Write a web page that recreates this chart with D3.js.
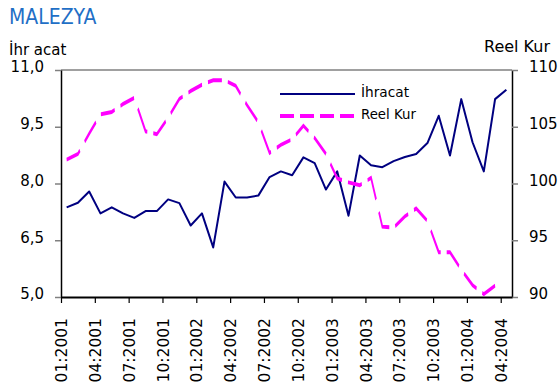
<!DOCTYPE html>
<html>
<head>
<meta charset="utf-8">
<script src="https://cdn.jsdelivr.net/npm/d3@7"></script>
<style>
  html, body { margin: 0; padding: 0; background: #fff; }
  svg { display: block; }
  text { font-family: "DejaVu Sans", Verdana, sans-serif; fill: #000; }
</style>
</head>
<body>
<svg id="chart" width="558" height="385"></svg>
<script>
// Monthly categories, 01:2001 – 04:2004
const months = [
  "01:2001","02:2001","03:2001","04:2001","05:2001","06:2001","07:2001","08:2001","09:2001","10:2001","11:2001","12:2001",
  "01:2002","02:2002","03:2002","04:2002","05:2002","06:2002","07:2002","08:2002","09:2002","10:2002","11:2002","12:2002",
  "01:2003","02:2003","03:2003","04:2003","05:2003","06:2003","07:2003","08:2003","09:2003","10:2003","11:2003","12:2003",
  "01:2004","02:2004","03:2004","04:2004"
];

// İhracat (left axis)
const ihracat = [
  7.37, 7.49, 7.79, 7.21, 7.37, 7.21, 7.09, 7.27, 7.27, 7.58, 7.48, 6.89,
  7.21, 6.31, 8.05, 7.63, 7.63, 7.68, 8.17, 8.32, 8.22, 8.69, 8.54, 7.84,
  8.32, 7.15, 8.74, 8.48, 8.43, 8.59, 8.70, 8.78, 9.07, 9.79, 8.74, 10.23,
  9.09, 8.32, 10.23, 10.48
];

// Reel Kur (right axis); last month not yet available
const reelKur = [
  102.1, 102.6, 104.4, 106.1, 106.3, 107.0, 107.55, 104.6, 104.35, 105.8, 107.45, 108.15,
  108.7, 109.1, 109.1, 108.6, 106.9, 105.4, 102.7, 103.4, 103.9, 105.1, 104.0, 102.6,
  100.45, 100.1, 99.85, 100.5, 96.2, 96.1, 97.1, 97.8, 96.7, 93.95, 93.95, 92.4,
  91.05, 90.25, 91.0
];

const leftTicks = [5.0, 6.5, 8.0, 9.5, 11.0];
const rightTicks = [90, 95, 100, 105, 110];
const labelEvery = 3;

const svg = d3.select("#chart");

const plot = { left: 61, right: 512, top: 70, bottom: 297 };

// x: category index -> position; ticks sit on category boundaries,
// points at category centres
const x = d3.scaleLinear().domain([0, months.length]).range([plot.left, plot.right]);
const yL = d3.scaleLinear().domain([5, 11]).range([plot.bottom, plot.top]);
const yR = d3.scaleLinear().domain([90, 110]).range([plot.bottom, plot.top]);

const comma = d => d3.format(".1f")(d).replace(".", ",");

// Title
svg.append("text")
  .attr("x", 9).attr("y", 24)
  .style("font-family", '"DejaVu Sans Condensed", "DejaVu Sans", sans-serif')
  .style("font-stretch", "condensed")
  .style("font-size", "21px")
  .style("fill", "#1f6fc6")
  .text("MALEZYA");

// Axis titles
svg.append("text")
  .attr("x", 9).attr("y", 55)
  .style("font-size", "15px")
  .text("İhr acat");

svg.append("text")
  .attr("x", 484).attr("y", 52)
  .style("font-size", "16px")
  .text("Reel Kur");

// Top border of the plot area
svg.append("line")
  .attr("x1", plot.left).attr("x2", plot.right)
  .attr("y1", plot.top).attr("y2", plot.top)
  .attr("stroke", "#808080").attr("stroke-width", 1.5);

// Left axis
const gL = svg.append("g")
  .attr("transform", `translate(${plot.left},0)`)
  .call(d3.axisLeft(yL).tickValues(leftTicks).tickFormat(comma)
        .tickSize(6).tickSizeOuter(0).tickPadding(11));
gL.select(".domain").attr("stroke", "#000").attr("stroke-width", 1.5);
gL.selectAll(".tick line").attr("stroke", "#808080").attr("stroke-width", 1.5);
gL.selectAll(".tick text")
  .attr("dy", "0.12em")
  .style("font-size", "15px").style("font-family", '"DejaVu Sans", sans-serif').attr("fill", "#000");

// Right axis
const gR = svg.append("g")
  .attr("transform", `translate(${plot.right},0)`)
  .call(d3.axisRight(yR).tickValues(rightTicks).tickFormat(d3.format("d"))
        .tickSize(6).tickSizeOuter(0).tickPadding(11));
gR.select(".domain").attr("stroke", "#000").attr("stroke-width", 1.5);
gR.selectAll(".tick line").attr("stroke", "#808080").attr("stroke-width", 1.5);
gR.selectAll(".tick text")
  .attr("dy", "0.1em")
  .style("font-size", "15px").style("font-family", '"DejaVu Sans", sans-serif').attr("fill", "#000");

// Bottom axis with rotated month labels
const tickIdx = d3.range(0, months.length, labelEvery);
const gB = svg.append("g")
  .attr("transform", `translate(0,${plot.bottom})`)
  .call(d3.axisBottom(x).tickValues(tickIdx).tickFormat(i => months[i])
        .tickSize(6).tickSizeOuter(0));
gB.select(".domain").attr("stroke", "#000").attr("stroke-width", 2);
gB.selectAll(".tick line").attr("stroke", "#000").attr("stroke-width", 1.2);
gB.selectAll(".tick text")
  .attr("transform", "rotate(-90)")
  .attr("x", -21).attr("y", 0).attr("dy", "0.36em")
  .style("text-anchor", "end")
  .style("font-size", "15.5px").style("font-family", '"DejaVu Sans", sans-serif').attr("fill", "#000");

// İhracat line
svg.append("path")
  .datum(ihracat)
  .attr("fill", "none")
  .attr("stroke", "#000080")
  .attr("stroke-width", 2)
  .attr("stroke-linejoin", "round")
  .attr("d", d3.line().x((d, i) => x(i + 0.5)).y(d => yL(d)));

// Reel Kur dashed line, drawn with a horizontally squeezed pen so that
// flat stretches look heavy and steep stretches thin
const sx = 0.42;
svg.append("g")
  .attr("transform", `scale(${sx},1)`)
  .append("path")
  .datum(reelKur)
  .attr("fill", "none")
  .attr("stroke", "#ff00ff")
  .attr("stroke-width", 4)
  .attr("stroke-dasharray", `${14 / sx},${6 / sx}`)
  .attr("d", d3.line().x((d, i) => x(i + 0.5) / sx).y(d => yR(d)));

// Legend
const legend = svg.append("g");
legend.append("line")
  .attr("x1", 280).attr("x2", 355).attr("y1", 94).attr("y2", 94)
  .attr("stroke", "#000080").attr("stroke-width", 2);
legend.append("line")
  .attr("x1", 280).attr("x2", 355).attr("y1", 116).attr("y2", 116)
  .attr("stroke", "#ff00ff").attr("stroke-width", 4)
  .attr("stroke-dasharray", "14,6");
legend.append("text")
  .attr("x", 361).attr("y", 97)
  .style("font-size", "13.7px")
  .text("İhracat");
legend.append("text")
  .attr("x", 361).attr("y", 118.5)
  .style("font-size", "13.3px")
  .text("Reel Kur");
</script>
</body>
</html>
